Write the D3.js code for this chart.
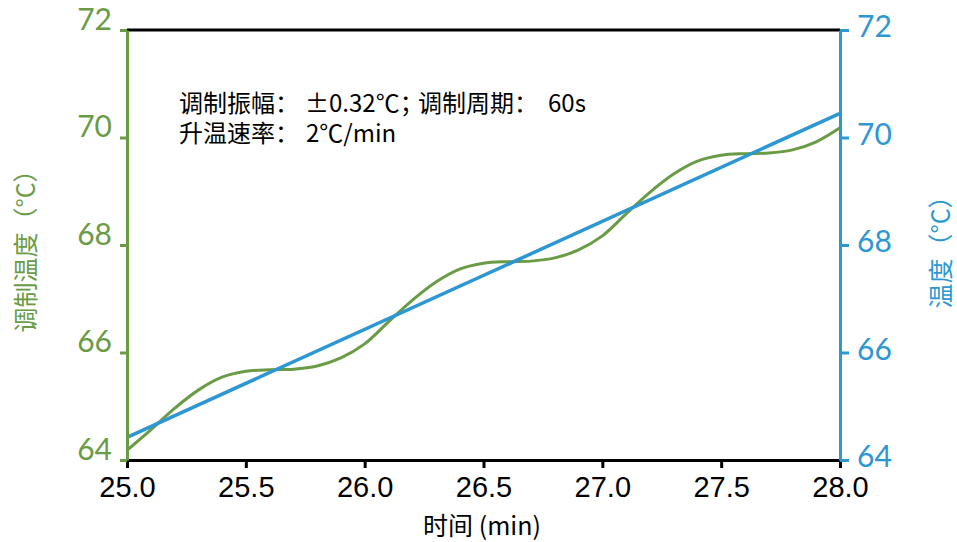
<!DOCTYPE html>
<html>
<head>
<meta charset="utf-8">
<script src="https://cdn.jsdelivr.net/npm/d3@7"></script>
<style>
  html, body { margin: 0; padding: 0; background: #fff; }
  svg { display: block; }
</style>
</head>
<body>
<svg id="chart" width="957" height="542"></svg>
<script>
// Time axis (min)
const timeMin = [25.0, 25.1, 25.2, 25.3, 25.4, 25.5, 25.6, 25.7, 25.8, 25.9,
                 26.0, 26.1, 26.2, 26.3, 26.4, 26.5, 26.6, 26.7, 26.8, 26.9,
                 27.0, 27.1, 27.2, 27.3, 27.4, 27.5, 27.6, 27.7, 27.8, 27.9, 28.0];
// Modulated temperature (°C), left axis
const modTemp = [64.18, 64.56, 64.96, 65.30, 65.54, 65.65, 65.68, 65.69, 65.75, 65.90,
                 66.16, 66.57, 66.97, 67.31, 67.55, 67.66, 67.69, 67.70, 67.76, 67.91,
                 68.17, 68.58, 68.98, 69.32, 69.56, 69.67, 69.70, 69.71, 69.77, 69.92, 70.18];
// Underlying linear temperature (°C), right axis
const rampTime = [25.0, 28.0];
const rampTemp = [64.42, 70.45];

const xTicks = [25.0, 25.5, 26.0, 26.5, 27.0, 27.5, 28.0];
const yTicks = [64, 66, 68, 70, 72];

const GREEN = "#6a9b45";
const BLUE = "#2d97d3";

const svg = d3.select("#chart");
const m = { left: 127, right: 117, top: 30, bottom: 82 };
const W = 957, H = 542;

const x = d3.scaleLinear().domain([25, 28]).range([m.left, W - m.right]);
const yL = d3.scaleLinear().domain([64, 72]).range([H - m.bottom, m.top]);
const yR = d3.scaleLinear().domain([64, 72]).range([H - m.bottom, m.top]);

// top frame line
svg.append("line")
  .attr("x1", x(25)).attr("x2", x(28))
  .attr("y1", yL(72)).attr("y2", yL(72))
  .attr("stroke", "#000").attr("stroke-width", 3);

// lines
const line = d3.line().curve(d3.curveCatmullRom.alpha(0.5));
svg.append("path")
  .attr("d", line(timeMin.map((t, i) => [x(t), yL(modTemp[i])])))
  .attr("fill", "none").attr("stroke", GREEN).attr("stroke-width", 3);

svg.append("path")
  .attr("d", d3.line()(rampTime.map((t, i) => [x(t), yR(rampTemp[i])])))
  .attr("fill", "none").attr("stroke", BLUE).attr("stroke-width", 3.5);

// bottom axis
const gx = svg.append("g")
  .attr("transform", `translate(0,${H - m.bottom})`)
  .call(d3.axisBottom(x).tickValues(xTicks).tickFormat(d3.format(".1f"))
        .tickSizeInner(8).tickSizeOuter(0).tickPadding(8));
gx.select(".domain").attr("stroke", "#000").attr("stroke-width", 3);
gx.selectAll(".tick line").attr("stroke", "#000").attr("stroke-width", 3);
gx.selectAll(".tick text")
  .attr("fill", "#000")
  .attr("font-family", "'Liberation Sans', Arial, sans-serif")
  .attr("font-size", 29);

// left axis
const gl = svg.append("g")
  .attr("transform", `translate(${m.left},0)`)
  .call(d3.axisLeft(yL).tickValues(yTicks).tickFormat(d3.format("d"))
        .tickSizeInner(7).tickSizeOuter(0).tickPadding(8));
gl.select(".domain").attr("stroke", GREEN).attr("stroke-width", 3);
gl.selectAll(".tick line").attr("stroke", GREEN).attr("stroke-width", 3);
gl.selectAll(".tick text")
  .attr("fill", GREEN)
  .attr("dy", "-0.02em")
  .attr("font-family", "Lato, sans-serif")
  .attr("font-weight", 400)
  .attr("font-size", 30);

// right axis
const gr = svg.append("g")
  .attr("transform", `translate(${W - m.right},0)`)
  .call(d3.axisRight(yR).tickValues(yTicks).tickFormat(d3.format("d"))
        .tickSizeInner(9).tickSizeOuter(0).tickPadding(8));
gr.select(".domain").attr("stroke", BLUE).attr("stroke-width", 3);
gr.selectAll(".tick line").attr("stroke", BLUE).attr("stroke-width", 3);
gr.selectAll(".tick text")
  .attr("fill", BLUE)
  .attr("dy", "0.22em")
  .attr("font-family", "Lato, sans-serif")
  .attr("font-weight", 400)
  .attr("font-size", 30);

// axis titles
const cjk = "'Noto Sans CJK SC', 'Noto Sans', sans-serif";
svg.append("text")
  .attr("x", 482).attr("y", 535)
  .attr("text-anchor", "middle")
  .attr("font-family", cjk).attr("font-size", 25).attr("fill", "#000")
  .text("时间 (min)");

svg.append("text")
  .attr("transform", `translate(35,245) rotate(-90)`)
  .attr("text-anchor", "middle")
  .attr("font-family", cjk).attr("font-size", 25).attr("fill", GREEN)
  .text("调制温度（°C）");

svg.append("text")
  .attr("transform", `translate(950,246) rotate(-90)`)
  .attr("text-anchor", "middle")
  .attr("font-family", cjk).attr("font-size", 25).attr("fill", BLUE)
  .text("温度（°C）");

// annotation: two lines of experiment parameters
const note = svg.append("g")
  .attr("font-family", cjk).attr("font-size", 24).attr("fill", "#000");
const l1 = note.append("text").attr("y", 112);
l1.append("tspan").attr("x", 179).text("调制振幅：");
l1.append("tspan").attr("x", 305).text("±0.32℃；");
l1.append("tspan").attr("x", 418).text("调制周期：");
l1.append("tspan").attr("x", 548).text("60s");
const l2 = note.append("text").attr("y", 142);
l2.append("tspan").attr("x", 179).text("升温速率：");
l2.append("tspan").attr("x", 306).text("2℃/min");
</script>
</body>
</html>
